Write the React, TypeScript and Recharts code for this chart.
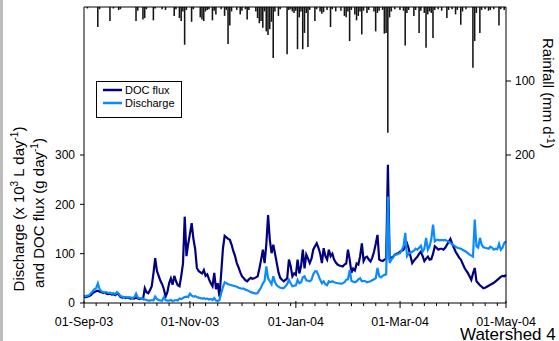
import React from "react";
import { ComposedChart, Line, Bar, XAxis, YAxis, ReferenceLine } from "recharts";

// daily values, 01-Sep-03 (day 0) to 01-May-04 (day 243)
const docFlux = [
  12, 12, 13, 14, 16, 20, 22, 24, 25, 23,
  22, 20, 21, 19, 18, 19, 17, 18, 16, 19,
  17, 12, 11, 12, 10, 11, 10, 9, 10, 9,
  11, 9, 8, 9, 8, 30, 22, 20, 26, 34,
  60, 91, 65, 55, 45, 38, 28, 13, 22, 40,
  50, 37, 55, 44, 36, 34, 55, 80, 175, 95,
  120, 140, 162, 130, 110, 71, 65, 62, 60, 67,
  55, 58, 48, 40, 34, 61, 28, 40, 13, 60,
  110, 136, 133, 130, 128, 118, 105, 95, 81, 72,
  62, 54, 50, 46, 44, 48, 51, 49, 50, 52,
  54, 70, 88, 108, 81, 120, 178, 128, 101, 118,
  100, 81, 62, 51, 47, 44, 47, 50, 88, 75,
  54, 60, 57, 88, 60, 75, 108, 70, 98, 90,
  81, 90, 108, 115, 121, 112, 100, 81, 111, 95,
  88, 108, 95, 100, 88, 82, 78, 76, 75, 74,
  78, 80, 108, 88, 61, 70, 66, 80, 78, 95,
  121, 85, 92, 94, 88, 84, 92, 104, 120, 138,
  88, 86, 85, 88, 90, 280, 90, 92, 94, 98,
  100, 101, 104, 106, 108, 115, 121, 110, 95, 81,
  86, 90, 94, 100, 104, 95, 85, 90, 94, 88,
  89, 100, 115, 112, 108, 110, 110, 108, 112, 118,
  124, 130, 120, 112, 104, 98, 92, 88, 80, 72,
  66, 61, 54, 47, 60, 71, 44, 40, 36, 33,
  30, 31, 33, 35, 37, 39, 41, 44, 47, 50,
  53, 55, 54, 57,
];

const discharge = [
  14, 14, 15, 16, 20, 24, 28, 30, 40, 28,
  24, 22, 21, 22, 20, 21, 19, 20, 18, 22,
  19, 14, 13, 12, 12, 11, 12, 11, 10, 12,
  19, 11, 10, 9, 9, 7, 6, 5, 5, 6,
  5, 13, 8, 6, 5, 5, 12, 6, 5, 5,
  6, 4, 5, 6, 5, 9, 8, 10, 12, 13,
  12, 19, 15, 13, 14, 12, 11, 10, 9, 10,
  8, 9, 7, 8, 6, 10, 5, 4, 6, 20,
  32, 42, 40, 38, 37, 36, 35, 34, 33, 31,
  30, 29, 29, 27, 26, 24, 22, 21, 20, 19,
  20, 26, 32, 40, 45, 74, 50, 44, 38, 54,
  42, 36, 33, 31, 30, 30, 34, 38, 47, 40,
  34, 35, 36, 47, 40, 42, 52, 54, 46, 45,
  44, 47, 58, 64, 64, 56, 47, 40, 44, 38,
  36, 44, 42, 44, 42, 41, 40, 40, 39, 40,
  42, 47, 48, 67, 45, 43, 42, 44, 48, 50,
  44, 45, 44, 42, 43, 44, 46, 48, 50, 71,
  54, 52, 55, 57, 58, 216, 81, 88, 92, 98,
  98, 100, 101, 108, 115, 142, 95, 100, 102, 104,
  106, 110, 108, 112, 116, 104, 110, 132, 108, 115,
  130, 159, 125, 128, 128, 127, 128, 127, 128, 126,
  124, 122, 119, 117, 114, 112, 111, 110, 108, 106,
  104, 101, 98, 96, 94, 169, 115, 112, 132, 118,
  113, 112, 111, 110, 114, 112, 108, 110, 109, 120,
  108, 112, 122, 125,
];

const rainfall = [
  0, 0, 2, 0, 0, 0, 0, 0, 27, 3,
  0, 0, 0, 0, 0, 19, 0, 2, 0, 0,
  4, 3, 0, 0, 0, 0, 0, 0, 0, 0,
  19, 5, 0, 0, 17, 15, 3, 0, 0, 0,
  18, 2, 0, 0, 0, 3, 0, 4, 0, 0,
  0, 0, 12, 3, 0, 15, 19, 6, 51, 4,
  0, 0, 20, 3, 0, 0, 0, 14, 17, 19,
  6, 4, 3, 0, 18, 5, 10, 0, 0, 3,
  0, 12, 4, 50, 25, 6, 0, 0, 4, 0,
  10, 5, 0, 3, 17, 4, 0, 0, 0, 6,
  15, 22, 19, 28, 6, 33, 38, 30, 20, 69,
  6, 0, 12, 3, 0, 0, 0, 64, 4, 3,
  6, 8, 5, 57, 14, 6, 57, 35, 8, 54,
  4, 0, 0, 19, 3, 0, 6, 9, 7, 0,
  4, 0, 27, 3, 0, 6, 0, 0, 5, 0,
  12, 14, 6, 46, 4, 0, 10, 18, 12, 6,
  37, 5, 0, 8, 4, 0, 0, 6, 33, 8,
  5, 0, 4, 36, 35, 170, 14, 6, 0, 3,
  0, 0, 4, 0, 5, 52, 8, 4, 0, 0,
  12, 4, 0, 35, 5, 0, 8, 55, 10, 6,
  8, 42, 4, 0, 3, 0, 5, 0, 0, 15,
  4, 0, 3, 0, 10, 4, 0, 24, 6, 0,
  3, 0, 0, 0, 82, 46, 8, 0, 35, 4,
  0, 3, 0, 5, 4, 0, 3, 0, 0, 25,
  3, 0, 4, 0,
];

const majorDays = [0, 61, 122, 182, 243];
const majorLabels = ["01-Sep-03", "01-Nov-03", "01-Jan-04", "01-Mar-04", "01-May-04"];
const leftTicks = [0, 100, 200, 300];
const rightTicks = [0, 100, 200];

const data = docFlux.map((v, i) => ({
  day: i,
  doc: v,
  discharge: discharge[i],
  rain: rainfall[i],
}));

const weekTicks = Array.from({ length: 35 }, (_, i) => i * 7);
const xTicks = Array.from(new Set([...weekTicks, ...majorDays])).sort((a, b) => a - b);

const FONT = "'Liberation Sans', Arial, sans-serif";
const DOC_COLOR = "#000080";
const Q_COLOR = "#0a8cff";

function DateTick(props: any) {
  const { x, y, payload } = props;
  const idx = majorDays.indexOf(payload.value);
  const major = idx >= 0;
  return (
    <g>
      <line x1={x} x2={x} y1={major ? y - 2 : y} y2={y + (major ? 5 : 3)} stroke="#000" />
      {major && (
        <text x={x} y={y + 23} textAnchor="middle" fontSize={12.5} fontFamily={FONT} fill="#000">
          {majorLabels[idx]}
        </text>
      )}
    </g>
  );
}

export default function App() {
  return (
    <div style={{ position: "absolute", left: 0, top: 0, width: 559, height: 341, background: "#fff", fontFamily: FONT }}>
      <ComposedChart width={559} height={341} data={data} margin={{ top: 7, right: 0, bottom: 0, left: 0 }}>
        <XAxis
          dataKey="day"
          type="number"
          domain={[0, 243]}
          ticks={xTicks}
          interval={0}
          tickLine={false}
          tickSize={0}
          tickMargin={0}
          tick={<DateTick />}
          axisLine={{ stroke: "#000" }}
          height={38}
        />
        <YAxis
          yAxisId="left"
          domain={[0, 600]}
          ticks={leftTicks}
          width={84}
          tickSize={4}
          tickMargin={5}
          axisLine={{ stroke: "#000" }}
          tickLine={{ stroke: "#000" }}
          tick={{ fill: "#000", fontSize: 12, fontFamily: FONT }}
          allowDataOverflow
        />
        <YAxis
          yAxisId="right"
          orientation="right"
          reversed
          domain={[0, 400]}
          ticks={rightTicks}
          width={53}
          tickSize={5}
          tickMargin={4}
          axisLine={{ stroke: "#000" }}
          tickLine={{ stroke: "#000" }}
          tick={{ fill: "#000", fontSize: 12, fontFamily: FONT }}
          allowDataOverflow
        />
        <ReferenceLine yAxisId="left" y={600} stroke="#000" />
        <Bar yAxisId="right" dataKey="rain" fill="#151515" barSize={2.5} isAnimationActive={false} />
        <Line
          yAxisId="left"
          type="linear"
          dataKey="doc"
          stroke={DOC_COLOR}
          strokeWidth={2.2}
          dot={false}
          isAnimationActive={false}
        />
        <Line
          yAxisId="left"
          type="linear"
          dataKey="discharge"
          stroke={Q_COLOR}
          strokeWidth={2.2}
          dot={false}
          isAnimationActive={false}
        />
      </ComposedChart>

      <div style={{ position: "absolute", left: 0, top: 0, width: 3, height: 341, background: "#bdbdbd" }} />

      <svg width={559} height={341} style={{ position: "absolute", left: 0, top: 0, pointerEvents: "none" }}>
        <g fontFamily={FONT} fill="#000">
          <text transform="translate(24,209) rotate(-90)" textAnchor="middle" fontSize={15}>
            Discharge (x 10<tspan dy={-6} fontSize={10}>3</tspan>
            <tspan dy={6}> L day</tspan>
            <tspan dy={-6} fontSize={10}>-1</tspan>
            <tspan dy={6}>)</tspan>
          </text>
          <text transform="translate(44,213) rotate(-90)" textAnchor="middle" fontSize={15}>
            and DOC flux (g day<tspan dy={-6} fontSize={10}>-1</tspan>
            <tspan dy={6}>)</tspan>
          </text>
          <text transform="translate(543,38) rotate(90)" textAnchor="start" fontSize={15}>
            Rainfall (mm d<tspan dy={-4} fontSize={10}>-1</tspan>
            <tspan dy={4}>)</tspan>
          </text>
          <text x={460} y={340} fontSize={17}>
            Watershed 4
          </text>
        </g>
        <g>
          <rect x={96.5} y={81.5} width={85} height={36} fill="#fff" stroke="#000" strokeWidth={1} />
          <line x1={103} x2={122} y1={90} y2={90} stroke={DOC_COLOR} strokeWidth={2.5} />
          <line x1={103} x2={122} y1={103} y2={103} stroke={Q_COLOR} strokeWidth={2.5} />
          <text x={125} y={94} fontSize={11} fontFamily={FONT} fill="#000">
            DOC flux
          </text>
          <text x={125} y={107} fontSize={11} fontFamily={FONT} fill="#000">
            Discharge
          </text>
        </g>
      </svg>
    </div>
  );
}
